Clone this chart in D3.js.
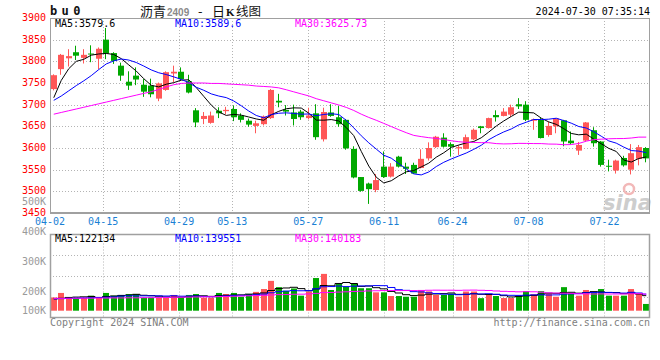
<!DOCTYPE html>
<html><head><meta charset="utf-8">
<script src="https://cdn.jsdelivr.net/npm/d3@7"></script>
<style>
html,body{margin:0;padding:0;background:#fff;}
svg{display:block;}
text{font-family:"DejaVu Sans Mono",monospace;font-size:10px;}
</style></head><body>
<svg id="c" width="660" height="360"></svg>
<script>
const dates = ["04-02","04-03","04-08","04-09","04-10","04-11","04-12",
"04-15","04-16","04-17","04-18","04-19","04-22","04-23","04-24","04-25","04-26",
"04-29","04-30","05-06","05-07","05-08","05-09","05-10",
"05-13","05-14","05-15","05-16","05-17","05-20","05-21","05-22","05-23","05-24",
"05-27","05-28","05-29","05-30","05-31","06-03","06-04","06-05","06-06","06-07",
"06-11","06-12","06-13","06-14","06-17","06-18","06-19","06-20","06-21",
"06-24","06-25","06-26","06-27","06-28","07-01","07-02","07-03","07-04","07-05",
"07-08","07-09","07-10","07-11","07-12","07-15","07-16","07-17","07-18","07-19",
"07-22","07-23","07-24","07-25","07-26","07-29","07-30"];
const open  = [3736,3782,3807,3821,3808,3818,3806,3850,3819,3790,3753,3767,3746,3744,3714,3734,3772,3776,3754,3687,
3667,3658,3686,3685,3690,3675,3663,3651,3655,3669,3709,3688,3682,3684,3669,3680,3620,3682,3671,3665,
3598,3533,3518,3503,3557,3534,3580,3557,3561,3554,3576,3602,3624,3609,3599,3598,3620,3650,3646,3676,
3674,3677,3701,3700,3663,3665,3630,3650,3664,3617,3594,3617,3641,3615,3559,3548,3577,3550,3575,3600];
const high  = [3770,3817,3828,3836,3828,3837,3832,3877,3821,3797,3777,3786,3759,3760,3751,3777,3790,3786,3769,3692,
3683,3684,3694,3695,3698,3680,3668,3663,3675,3736,3725,3699,3700,3688,3693,3701,3693,3701,3697,3667,
3604,3533,3520,3540,3592,3565,3582,3566,3566,3597,3613,3628,3634,3613,3606,3631,3645,3651,3670,3687,
3692,3700,3715,3708,3668,3670,3661,3669,3665,3638,3614,3660,3648,3616,3573,3573,3582,3609,3607,3602];
const low   = [3733,3769,3788,3803,3795,3798,3782,3805,3794,3755,3734,3745,3718,3717,3708,3732,3752,3756,3726,3648,
3655,3656,3669,3678,3662,3659,3649,3634,3652,3667,3694,3675,3652,3665,3666,3619,3615,3672,3649,3596,
3530,3499,3471,3498,3531,3532,3555,3540,3540,3553,3571,3600,3601,3580,3584,3597,3618,3634,3645,3661,
3673,3672,3690,3662,3642,3622,3626,3634,3604,3608,3584,3615,3603,3557,3546,3541,3557,3539,3560,3567];
const close = [3768,3815,3812,3813,3815,3816,3829,3818,3801,3767,3744,3758,3730,3724,3749,3775,3776,3759,3728,3659,
3674,3675,3680,3688,3671,3665,3654,3657,3673,3734,3705,3684,3667,3671,3675,3625,3683,3674,3655,3599,
3532,3501,3505,3526,3533,3557,3557,3552,3541,3575,3600,3626,3603,3603,3602,3625,3642,3646,3669,3671,
3684,3694,3696,3665,3666,3623,3651,3668,3615,3611,3607,3659,3611,3561,3558,3571,3560,3588,3602,3576];
const volume = [112000,150000,108000,108000,108000,127000,108000,150000,127000,133000,141000,141000,110000,110000,110000,110000,133000,112000,133000,141000,
110000,110000,150000,141000,150000,118000,141000,159000,183000,252000,199000,167000,188000,127000,162000,276000,311000,175000,226000,203000,
234000,190000,190000,155000,155000,124000,124000,118000,118000,175000,163000,133000,133000,144000,118000,162000,162000,106000,137000,124000,
107000,107000,128000,165000,139000,165000,146000,118000,199000,150000,127000,175000,156000,183000,127000,127000,127000,183000,141000,57000];
// moving-average values before a full window is available
const ma5Head  = [3716,3756,3783,3800];
const ma10Head = [3710,3720,3732,3744,3755,3767,3781,3794,3801];
const ma30Head = [3678,3682,3686,3690,3694,3698,3702,3706,3710,3714,3718,3722,3726,3730,3735,3741,3746,3749,3750,3750,3750,3749,3749,3748,3747,3746,3745,3743,3742];
const vma5Head  = [100000,105000,112000,115000];
const vma10Head = [100000,102000,104000,106000,108000,110000,112000,114000,116000];
const vma30Head = [104000,104000,105000,105000,106000,106000,107000,107000,108000,108000,109000,109000,110000,110000,111000,112000,113000,114000,115000,116000,117000,118000,119000,120000,122000,124000,126000,128000,130000];
const priceTicks = [3900,3850,3800,3750,3700,3650,3600,3550,3500,3450];
const dateTickIdx = [0,7,17,24,34,44,53,63,73];
const volTicks = [500000,400000,300000,200000,100000];
const volTickLabels = ["500K","400K","300K","200K","100K"];
const legendMain = [["MA5:3579.6","#000"],["MA10:3589.6","#0000ff"],["MA30:3625.73","#ff00ff"]];
const legendVol  = [["MA5:122134","#000"],["MA10:139551","#0000ff"],["MA30:140183","#ff00ff"]];

const RED="#ff5757", GREEN="#00a800", GRID="#b4b4b4", FRAME="#a0a0a0";
const L=50, R=650, mainTop=18, mainBot=213, volTop=234.5, volBot=317.5, volBase=310.7;

function rolling(vals, n, head){
  return vals.map((v,i)=> i < n-1 ? head[i] : d3.mean(vals.slice(i-n+1,i+1)));
}
const data = dates.map((d,i)=>({d,i,o:open[i],h:high[i],l:low[i],c:close[i],v:volume[i]}));

const svg = d3.select("#c");
const x  = d3.scaleBand().domain(dates).range([L,R]).paddingInner(0.2).paddingOuter(0.1);
const gx = d3.scaleLinear().domain([0,dates.length-1]).range([L,R]);
const y  = d3.scaleLinear().domain([3450,3900]).range([mainBot,mainTop]);
const vy = d3.scaleLinear().domain([0,400000]).range([volBase, volBase-400/8.45]);
const vLab = d3.scaleLinear().domain([200000,500000]).range([290.7,200.7]);
const cx = d => x(d) + x.bandwidth()/2;

// ---- grids
const g = svg.append("g").attr("stroke",GRID).attr("stroke-dasharray","1,2");
g.selectAll(".hp").data(priceTicks.filter(p=>p<3900&&p>3450)).join("line")
  .attr("x1",L).attr("x2",R).attr("y1",p=>Math.round(y(p))+0.5).attr("y2",p=>Math.round(y(p))+0.5);
g.selectAll(".vp").data(dateTickIdx.slice(1)).join("line")
  .attr("x1",i=>Math.round(gx(i))+0.5).attr("x2",i=>Math.round(gx(i))+0.5).attr("y1",mainTop).attr("y2",mainBot);
g.selectAll(".vv").data(dateTickIdx.slice(1)).join("line")
  .attr("x1",i=>Math.round(gx(i))+0.5).attr("x2",i=>Math.round(gx(i))+0.5).attr("y1",volTop).attr("y2",volBot);
g.selectAll(".hv").data([1,2,3]).join("line")
  .attr("x1",L).attr("x2",R).attr("y1",k=>Math.round(volTop+(volBot-volTop)*k/4)+0.5).attr("y2",k=>Math.round(volTop+(volBot-volTop)*k/4)+0.5);

// ---- watermark
svg.append("circle").attr("cx",629).attr("cy",189).attr("r",5).attr("fill","none").attr("stroke","#f2b8b8").attr("stroke-width",2.5);
svg.append("text").attr("x",603).attr("y",210).text("sina")
  .style("font","italic bold 21px 'DejaVu Sans'").attr("fill","#cdcdcd");

// ---- candles
const col = d => d.c >= d.o ? RED : GREEN;
const cg = svg.append("g");
cg.selectAll(".w").data(data).join("line")
  .attr("x1",d=>Math.round(x(d.d))+2.5).attr("x2",d=>Math.round(x(d.d))+2.5)
  .attr("y1",d=>y(d.h)).attr("y2",d=>y(d.l)).attr("stroke",col);
cg.selectAll(".b").data(data).join("rect")
  .attr("x",d=>Math.round(x(d.d))).attr("width",6)
  .attr("y",d=>y(Math.max(d.o,d.c))).attr("height",d=>Math.max(1,Math.abs(y(d.o)-y(d.c))))
  .attr("fill",col);

// ---- MA lines main
const line = d3.line().x((v,i)=>cx(dates[i])).y(v=>y(v));
[[rolling(close,5,ma5Head),"#000"],[rolling(close,10,ma10Head),"#0000ff"],[rolling(close,30,ma30Head),"#ff00ff"]]
 .forEach(([s,c])=>svg.append("path").attr("d",line(s)).attr("fill","none").attr("stroke",c).attr("stroke-width",1));

// ---- volume bars
svg.append("g").selectAll("rect").data(data).join("rect")
  .attr("x",d=>Math.round(x(d.d))).attr("width",6)
  .attr("y",d=>vy(d.v)).attr("height",d=>volBase-vy(d.v)).attr("fill",col);
const vline = d3.line().x((v,i)=>cx(dates[i])).y(v=>vy(v)).curve(d3.curveStep);
[[rolling(volume,5,vma5Head),"#000"],[rolling(volume,10,vma10Head),"#0000ff"],[rolling(volume,30,vma30Head),"#ff00ff"]]
 .forEach(([s,c])=>svg.append("path").attr("d",vline(s)).attr("fill","none").attr("stroke",c).attr("stroke-width",1));

// ---- frames
const fr = svg.append("g").attr("stroke",FRAME).attr("fill","none");
fr.append("rect").attr("x",L+0.5).attr("y",mainTop+0.5).attr("width",R-L-1).attr("height",mainBot-mainTop);
fr.append("line").attr("x1",L).attr("x2",R).attr("y1",mainBot).attr("y2",mainBot).attr("stroke-width",2);
fr.append("rect").attr("x",L+0.5).attr("y",volTop).attr("width",R-L-1).attr("height",volBot-volTop).attr("stroke-width",1.5);

// ---- axis labels
svg.append("g").selectAll("text").data(priceTicks).join("text")
  .attr("x",46).attr("y",p=>y(p)).attr("dy","0.3em").attr("text-anchor","end").attr("fill","#ff0000").text(p=>p);
svg.append("g").selectAll("text").data(volTicks).join("text")
  .attr("x",46).attr("y",v=>Math.min(vLab(v),310)).attr("dy","0.42em").attr("text-anchor","end").attr("fill","#9a9a9a")
  .text((v,i)=>volTickLabels[i]);
svg.append("g").selectAll("text").data(dateTickIdx).join("text")
  .attr("x",i=>gx(i)).attr("y",225).attr("text-anchor","middle").attr("fill","#1a7fd4").text(i=>dates[i]);

// ---- legends
legendMain.forEach(([t,c],k)=>svg.append("text").attr("x",55+120*k).attr("y",27).attr("fill",c).text(t));
legendVol.forEach(([t,c],k)=>svg.append("text").attr("x",55+120*k).attr("y",242).attr("fill",c).text(t));

// ---- header
svg.append("text").attr("x",50).attr("y",15).text("bu0")
  .style("font","bold 12px 'DejaVu Sans Mono'").attr("letter-spacing","4.4px").attr("fill","#111");
const cjk = "'Noto Sans CJK SC'";
svg.append("text").attr("x",140).attr("y",15.5).text("沥青").style("font","13px "+cjk).attr("fill","#111");
svg.append("text").attr("x",167).attr("y",15.5).text("2409").style("font","bold 10px 'Liberation Sans'").attr("fill","#8a8a8a");
svg.append("text").attr("x",198).attr("y",15.5).text("-").style("font","13px "+cjk).attr("fill","#111");
svg.append("text").attr("x",212).attr("y",15.5).text("日").style("font","13px "+cjk).attr("fill","#111");
svg.append("text").attr("x",226).attr("y",15.5).text("K").style("font","bold 11px 'Liberation Serif'").attr("fill","#111");
svg.append("text").attr("x",236).attr("y",15.5).text("线图").style("font","12.5px "+cjk).attr("fill","#111");
svg.append("text").attr("x",650).attr("y",15).attr("text-anchor","end").attr("fill","#000").text("2024-07-30 07:35:14");

// ---- footer
svg.append("text").attr("x",50).attr("y",326).attr("fill","#808080").text("Copyright 2024 SINA.COM");
svg.append("text").attr("x",650).attr("y",326).attr("text-anchor","end").attr("fill","#808080").text("http://finance.sina.com.cn");
</script>
</body></html>
